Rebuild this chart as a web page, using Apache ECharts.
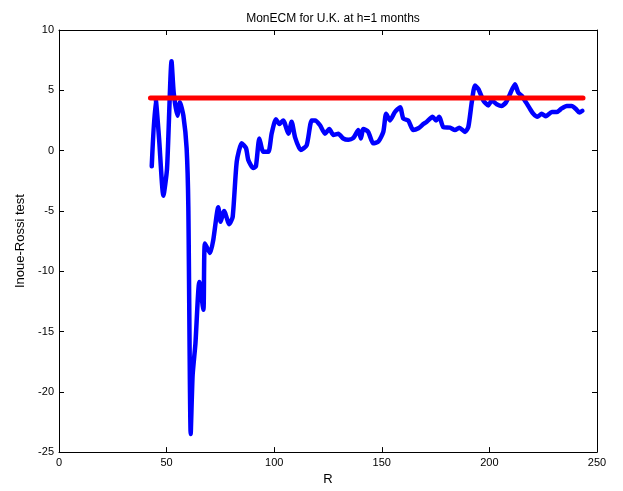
<!DOCTYPE html>
<html>
<head>
<meta charset="utf-8">
<script src="https://cdn.jsdelivr.net/npm/echarts@6/dist/echarts.min.js"></script>
<style>html,body{margin:0;padding:0;background:#fff;overflow:hidden}#c{width:623px;height:491px}</style>
</head>
<body>
<div id="c"></div>
<script>
// Rolling-window sizes R and Inoue-Rossi test statistic
const rValues = [43.1, 44.9, 46.5, 48.5, 50.2, 52.3, 53.3, 55.0, 56.2, 57.8, 59.3, 60.1, 61.2, 62.1, 63.4, 65.2, 67.1, 67.8, 70.2, 71.7, 74.0, 75.1, 76.7, 79.1, 80.7, 82.6, 84.9, 86.9, 88.0, 90.3, 91.5, 93.1, 94.9, 97.3, 98.8, 100.8, 102.4, 104.2, 106.6, 108.1, 109.7, 112.3, 115.1, 117.4, 119.0, 121.3, 123.6, 125.6, 127.5, 129.8, 132.1, 134.4, 136.8, 139.1, 140.3, 141.4, 143.7, 146.0, 148.4, 150.7, 152.0, 153.8, 156.1, 158.5, 160.0, 162.3, 164.6, 167.0, 169.3, 170.9, 173.6, 175.2, 176.7, 178.6, 181.7, 184.0, 186.0, 188.7, 190.2, 191.8, 193.3, 194.9, 197.2, 199.5, 201.1, 203.4, 205.7, 207.7, 209.6, 211.9, 213.4, 215.0, 217.0, 218.9, 220.4, 222.3, 224.3, 226.3, 229.0, 231.3, 233.6, 235.9, 238.2, 240.2, 241.8, 243.2];
const testValues = [-1.3, 4.3, 1.0, -3.75, -1.5, 7.4, 4.8, 2.9, 4.0, 2.9, 0.2, -4.7, -23.5, -18.6, -16.0, -10.9, -13.2, -7.7, -8.5, -7.4, -4.7, -5.9, -5.0, -6.1, -5.5, -0.9, 0.6, 0.2, -0.8, -1.45, -1.3, 1.0, -0.1, -0.1, 1.4, 2.6, 2.2, 2.5, 1.4, 2.4, 1.1, 0.05, 0.45, 2.5, 2.5, 2.1, 1.4, 1.8, 1.3, 1.4, 1.0, 0.9, 1.05, 1.7, 1.0, 1.8, 1.55, 0.6, 0.75, 1.55, 3.05, 2.5, 3.2, 3.6, 2.65, 2.5, 1.7, 1.85, 2.2, 2.4, 2.8, 2.5, 2.8, 1.95, 1.9, 1.7, 1.9, 1.55, 1.95, 4.0, 5.4, 5.1, 4.15, 3.75, 4.15, 3.85, 3.7, 4.0, 4.7, 5.5, 4.8, 4.55, 4.0, 3.45, 3.05, 2.8, 3.05, 2.85, 3.2, 3.2, 3.5, 3.7, 3.7, 3.45, 3.15, 3.3];
const criticalR = [42.5, 243.5];
const criticalValue = [4.36, 4.36];
const xTicks = [0, 50, 100, 150, 200, 250];
const yTicks = [-25, -20, -15, -10, -5, 0, 5, 10];
const titleText = 'MonECM for U.K. at h=1 months';
const xName = 'R';
const yName = 'Inoue-Rossi test';

const font = 'Liberation Sans, Arial, sans-serif';
const chart = echarts.init(document.getElementById('c'), null, {renderer: 'canvas', width: 623, height: 491});
const lbl = {color: '#000', fontFamily: font, fontSize: 11};
const baseX = {
  type: 'value', min: xTicks[0], max: xTicks[xTicks.length - 1], interval: 50,
  axisLine: {show: true, onZero: false, lineStyle: {color: '#000', width: 1}},
  axisTick: {show: true, inside: true, length: 5, lineStyle: {color: '#000'}},
  splitLine: {show: false}
};
const baseY = {
  type: 'value', min: yTicks[0], max: yTicks[yTicks.length - 1], interval: 5,
  axisLine: {show: true, onZero: false, lineStyle: {color: '#000', width: 1}},
  axisTick: {show: true, inside: true, length: 5, lineStyle: {color: '#000'}},
  splitLine: {show: false}
};
chart.setOption({
  backgroundColor: '#fff',
  animation: false,
  title: {
    text: titleText, left: 328, textAlign: 'center', top: 8,
    textStyle: {fontFamily: font, fontSize: 12, fontWeight: 'normal', color: '#000'}
  },
  grid: {left: 59, top: 30, width: 538, height: 428, containLabel: false},
  xAxis: [
    Object.assign({}, baseX, {position: 'bottom', name: xName, nameLocation: 'middle', nameGap: 20,
      nameTextStyle: {color: '#000', fontFamily: font, fontSize: 13},
      axisLabel: Object.assign({margin: 5}, lbl)}),
    Object.assign({}, baseX, {position: 'top', axisLabel: {show: false}})
  ],
  yAxis: [
    Object.assign({}, baseY, {position: 'left', name: yName, nameLocation: 'middle', nameGap: 32,
      nameTextStyle: {color: '#000', fontFamily: font, fontSize: 13},
      axisLabel: Object.assign({margin: 5}, lbl)}),
    Object.assign({}, baseY, {position: 'right', axisLabel: {show: false}})
  ],
  series: [
    {
      type: 'line', xAxisIndex: 0, yAxisIndex: 0,
      data: rValues.map((r, i) => [r, testValues[i]]),
      showSymbol: false, smooth: 0.2,
      lineStyle: {color: '#0000ff', width: 4.5, join: 'round', cap: 'round'},
      z: 2
    },
    {
      type: 'line', xAxisIndex: 0, yAxisIndex: 0,
      data: criticalR.map((r, i) => [r, criticalValue[i]]),
      showSymbol: false,
      lineStyle: {color: '#ff0000', width: 5, cap: 'round'},
      z: 3
    }
  ]
});
</script>
</body>
</html>
